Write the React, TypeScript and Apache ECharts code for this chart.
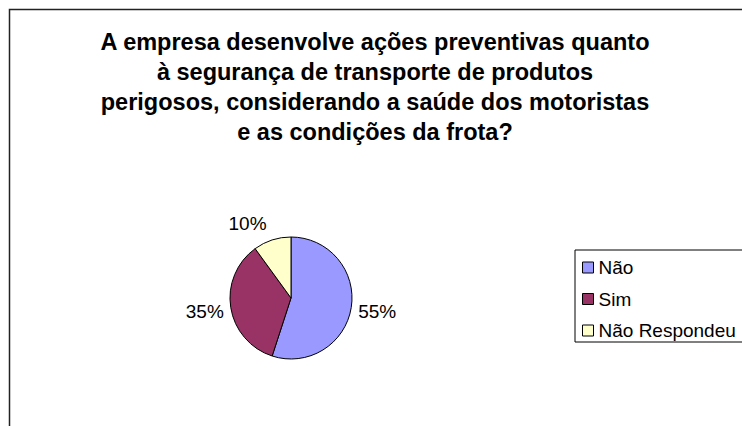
import React, { useEffect, useRef } from "react";
import * as echarts from "echarts";

const titleLines = [
  "A empresa desenvolve ações preventivas quanto",
  "à segurança de transporte de produtos",
  "perigosos, considerando a saúde dos motoristas",
  "e as condições da frota?",
];
const categories = ["Não", "Sim", "Não Respondeu"];
const values = [55, 35, 10];
const colors = ["#9999FF", "#993366", "#FFFFCC"];

export default function App() {
  const ref = useRef<HTMLDivElement>(null);
  useEffect(() => {
    if (!ref.current) return;
    const chart = echarts.init(ref.current, undefined, { renderer: "svg" });
    const font = "Arial, 'Liberation Sans', sans-serif";
    chart.setOption({
      animation: false,
      backgroundColor: "#ffffff",
      title: {
        text: titleLines.join("\n"),
        left: 370,
        textAlign: "center",
        top: 22,
        textStyle: {
          fontFamily: font,
          fontSize: 23.5,
          fontWeight: "bold",
          color: "#000",
          lineHeight: 30,
        },
      },
      legend: {
        orient: "vertical",
        left: 575,
        top: 250,
        data: categories,
        icon: "rect",
        itemWidth: 11,
        itemHeight: 11,
        itemGap: 12.5,
        padding: [8, 40, 2, 7],
        borderColor: "#000",
        borderWidth: 1,
        textStyle: { fontFamily: font, fontSize: 19, color: "#000" },
        itemStyle: { borderColor: "#000", borderWidth: 1 },
      },
      graphic: [
        {
          type: "rect",
          shape: { x: 9.5, y: 9.5, width: 780, height: 460 },
          style: { fill: "none", stroke: "#222", lineWidth: 1.5 },
          silent: true,
          z: -1,
        },
      ],
      series: [
        {
          type: "pie",
          center: [291, 298],
          radius: 61,
          startAngle: 90,
          clockwise: true,
          data: categories.map((name, i) => ({
            name,
            value: values[i],
            itemStyle: { color: colors[i] },
          })),
          itemStyle: { borderColor: "#000", borderWidth: 1 },
          label: {
            show: true,
            position: "outside",
            formatter: "{d}%",
            fontFamily: font,
            fontSize: 19,
            color: "#000",
          },
          labelLine: { show: false, length: 2, length2: 0 },
          labelLayout: (p: any) => (p.dataIndex === 2 ? { dy: -15 } : { dy: 4 }),
          emphasis: { disabled: true },
        },
      ],
    });
    return () => chart.dispose();
  }, []);
  return (
    <div
      ref={ref}
      style={{ position: "fixed", left: 0, top: 0, width: 742, height: 426 }}
    />
  );
}
